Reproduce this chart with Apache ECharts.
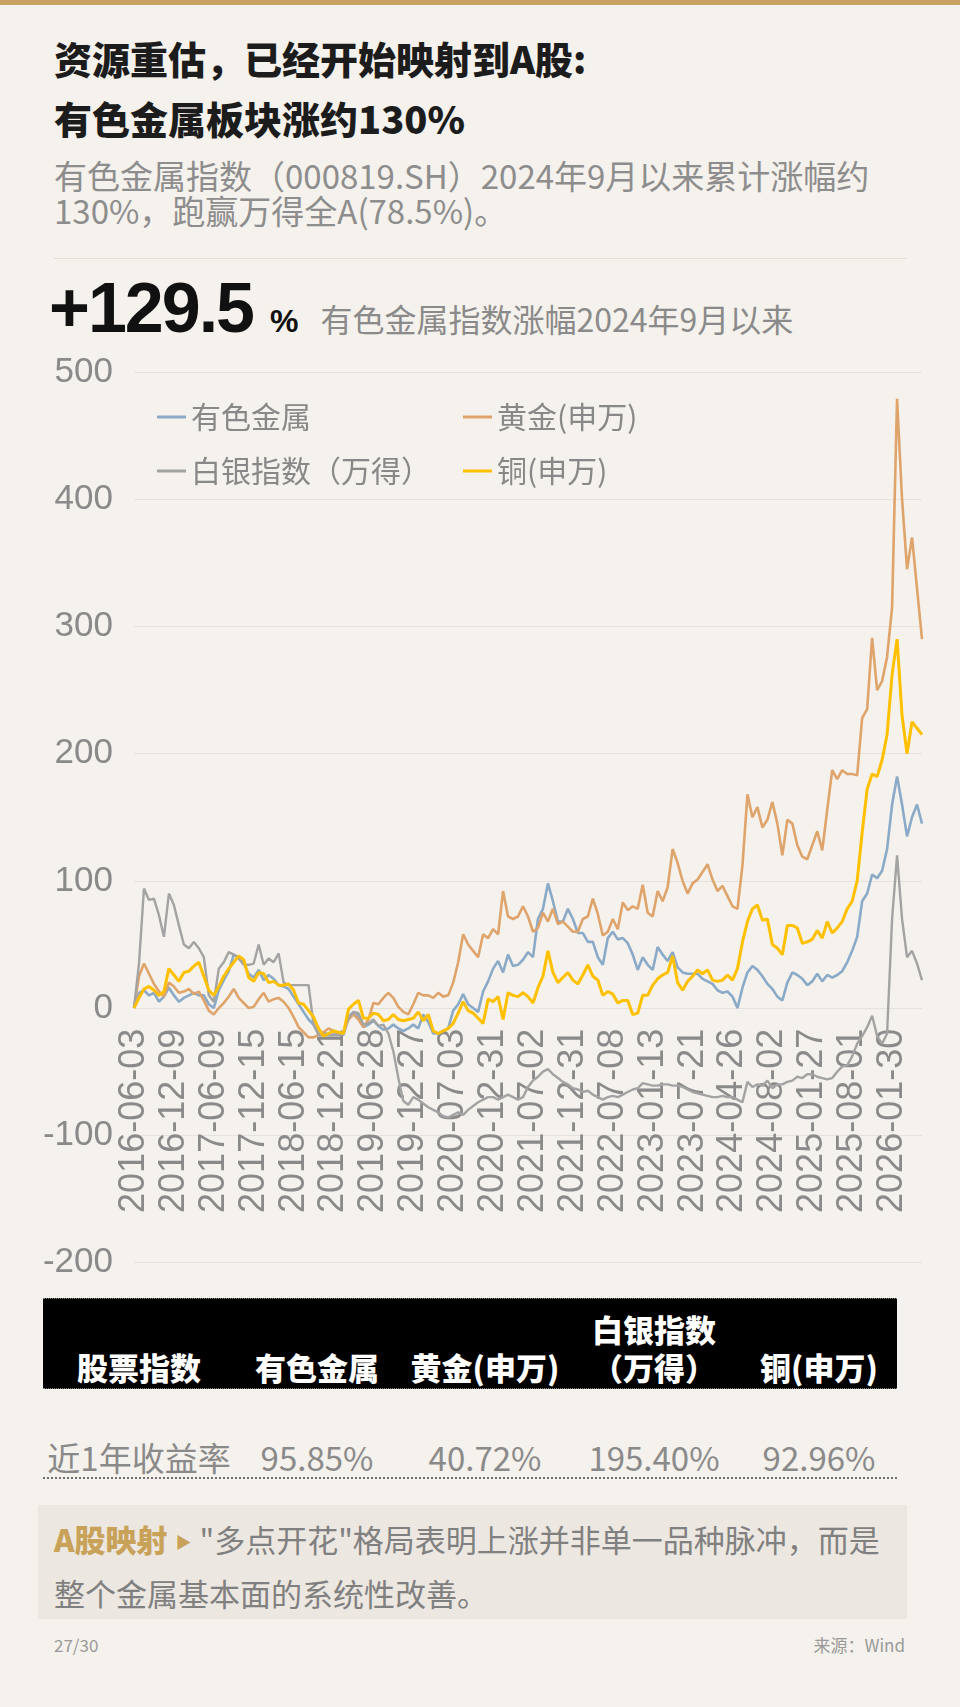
<!DOCTYPE html>
<html>
<head>
<meta charset="utf-8">
<script src="https://cdn.jsdelivr.net/npm/echarts@6/dist/echarts.min.js"></script>
<style>
html, body { margin: 0; padding: 0; }
body {
  width: 960px; height: 1707px; position: relative; overflow: hidden;
  background: #F5F1EC;
  font-family: "Noto Sans CJK SC", "Noto Sans", sans-serif;
}
.topbar { position: absolute; left: 0; top: 0; width: 960px; height: 5px; background: #C9A262; }
.title { position: absolute; left: 54px; top: 28px; font-size: 38px; line-height: 60px; font-weight: 900; color: #1c1c1c; }
.sub { position: absolute; left: 54px; top: 158px; font-size: 33px; line-height: 35px; color: #8d8d8d; }
.sep { position: absolute; left: 54px; top: 258px; width: 853px; height: 1px; background: #E3DED8; }
.kpi { position: absolute; left: 49px; top: 273px; display: flex; align-items: baseline; white-space: nowrap; }
.kpi .num { font-family: "Liberation Sans", Arial, sans-serif; font-weight: 700; font-size: 70px; line-height: 70px; letter-spacing: -2px; color: #111; }
.kpi .pct { font-family: "Liberation Sans", Arial, sans-serif; font-weight: 700; font-size: 32px; color: #111; margin-left: 17px; }
.kpi .txt { font-size: 32px; color: #8a8a8a; margin-left: 22px; }
#chart { position: absolute; left: 0; top: 330px; width: 960px; height: 950px; }
.thead { position: absolute; left: 43px; top: 1298px; width: 854px; height: 91px; background: #000;
  border-top: 1px dotted #8a8a8a; border-bottom: 1px dotted #8a8a8a; box-sizing: border-box; }
.th { position: absolute; bottom: 2px; font-size: 31px; line-height: 38px; font-weight: 900; color: #fff; text-align: center; }
.td { position: absolute; top: 1437px; font-size: 33px; line-height: 40px; color: #8a8a8a; text-align: center; white-space: nowrap; }
.dots { position: absolute; left: 43px; top: 1477px; width: 854px; border-top: 2px dotted #6f6f6f; }
.note { position: absolute; left: 38px; top: 1505px; width: 869px; height: 114px; background: #ECE7E0;
  box-sizing: border-box; padding: 10px 0 0 16px; font-size: 31px; line-height: 47px; color: #808080; white-space: nowrap; }
.note b { color: #C9A25A; font-weight: 900; }
.note .tri { color: #C9A25A; font-size: 16px; margin: 0 8px 0 8px; position: relative; top: -4px; }
.foot { position: absolute; top: 1634px; font-size: 17px; line-height: 22px; color: #9a9a9a; }
</style>
</head>
<body>
<div class="topbar"></div>
<div class="title">资源重估，已经开始映射到A股:<br>有色金属板块涨约130%</div>
<div class="sub">有色金属指数（000819.SH）2024年9月以来累计涨幅约<br>130%，跑赢万得全A(78.5%)。</div>
<div class="sep"></div>
<div class="kpi"><span class="num">+129.5</span><span class="pct">%</span><span class="txt">有色金属指数涨幅2024年9月以来</span></div>
<div id="chart"></div>
<div class="thead" id="thead"></div>
<div id="trow"></div>
<div class="dots"></div>
<div class="note"><b>A股映射</b><span class="tri">▶</span>"多点开花"格局表明上涨并非单一品种脉冲，而是<br>整个金属基本面的系统性改善。</div>
<div class="foot" style="left:54px;">27/30</div>
<div class="foot" style="right:55px;">来源：Wind</div>

<script>
// x 轴标签日期（每 8 个点一个）
var labelDates = ['2016-06-03', '2016-12-09', '2017-06-09', '2017-12-15', '2018-06-15',
  '2018-12-21', '2019-06-28', '2019-12-27', '2020-07-03', '2020-12-31',
  '2021-07-02', '2021-12-31', '2022-07-08', '2023-01-13', '2023-07-21',
  '2024-04-26', '2024-08-02', '2025-01-27', '2025-08-01', '2026-01-30'];
var STEPS = 8;
var TAIL = 6;

var seriesNames = ['有色金属', '黄金(申万)', '白银指数（万得）', '铜(申万)'];

// 累计涨幅(%)
var metals = [
  0, 12, 14, 10, 12, 5, 9, 16, 10, 5,
  8, 10, 12, 10, 10, 3, 0, 14, 22, 29,
  42, 40, 35, 27, 24, 30, 22, 26, 23, 18,
  17, 15, 9, 3, -3, -9, -13, -20, -19, -21,
  -21, -20, -21, -7, -3, -7, -15, -13, -10, -14,
  -17, -16, -13, -16, -18, -16, -13, -16, -5, -11,
  -20, -20, -18, -16, -2, 3, 11, 3, 0, -3,
  13, 21, 31, 37, 28, 42, 33, 34, 38, 44,
  40, 70, 78, 98, 84, 68, 68, 78, 70, 59,
  59, 52, 52, 40, 34, 55, 60, 54, 55, 51,
  42, 30, 40, 34, 30, 48, 42, 37, 44, 32,
  28, 27, 27, 27, 23, 21, 19, 14, 12, 13,
  9, 0, 16, 28, 33, 30, 25, 19, 15, 9,
  6, 20, 28, 26, 23, 18, 21, 27, 21, 26,
  24, 26, 29, 36, 45, 56, 84, 90, 105, 102,
  108, 125, 160, 182, 160, 135, 150, 160, 145
];
var gold = [
  0, 25, 35, 27, 19, 13, 9, 20, 17, 12,
  13, 15, 11, 13, 6, -2, -5, 0, 4, 9,
  15, 8, 4, 0, 1, 7, 12, 5, 7, 8,
  5, 0, -7, -15, -19, -23, -23, -21, -19, -16,
  -18, -21, -19, -9, -5, -9, -15, -9, 4, 3,
  8, 12, 8, 1, -3, -5, 3, 12, 10, 10,
  8, 12, 9, 10, 20, 36, 58, 50, 45, 40,
  58, 55, 62, 58, 92, 72, 70, 72, 80, 72,
  60, 63, 75, 68, 78, 66, 68, 64, 60, 60,
  70, 72, 86, 74, 57, 60, 70, 62, 83, 77,
  80, 78, 97, 75, 72, 92, 84, 95, 125, 114,
  100, 90, 98, 101, 107, 113, 101, 92, 96, 88,
  80, 78, 112, 168, 150, 158, 142, 148, 162, 145,
  120, 148, 145, 128, 119, 117, 128, 139, 124, 156,
  187, 180, 187, 184, 184, 183, 228, 235, 291, 250,
  257, 276, 315, 479, 400, 345, 370, 330, 290
];
var silver = [
  0, 35, 94, 85, 86, 73, 56, 90, 81, 65,
  50, 47, 52, 47, 40, 10, 5, 31, 36, 44,
  42, 39, 34, 34, 35, 50, 34, 39, 36, 43,
  20, 18, 18, 18, 18, 18, -13, -21, -21, -21,
  -21, -21, -20, -8, -3, -4, -13, -12, -9, -14,
  -13, -20, -34, -55, -73, -76, -70, -72, -75, -78,
  -80, -82, -85, -86, -84, -82, -84, -80, -77, -74,
  -72, -70, -70, -72, -70, -68, -70, -72, -70, -62,
  -57, -54, -50, -48, -52, -55, -58, -60, -63, -64,
  -66, -65, -68, -70, -72, -70, -69, -70, -68, -66,
  -64, -63, -59, -60, -61, -61, -60, -60, -61, -61,
  -62, -64, -66, -67, -68, -69, -70, -70, -69, -70,
  -70, -72, -74, -58, -62, -60, -61, -57, -63, -60,
  -60, -58, -57, -54, -55, -52, -52, -54, -55, -56,
  -55, -50, -46, -45, -38, -28, -22, -15, -6, -22,
  -28, -20, 70, 120, 70, 40, 45, 35, 22
];
var copper = [
  0, 8, 15, 17, 14, 10, 13, 31, 26, 21,
  28, 29, 33, 36, 25, 14, 10, 17, 25, 31,
  36, 41, 38, 24, 21, 28, 27, 20, 21, 18,
  18, 19, 14, 4, 3, -2, -7, -16, -22, -20,
  -18, -19, -20, -1, 3, 6, -8, -8, -4, -5,
  -10, -9, -5, -9, -10, -9, -8, -3, -10, -5,
  -18, -20, -18, -16, -12, -4, 5, -2, -4, -8,
  -12, 7, 5, 9, -9, 12, 10, 9, 12, 9,
  4, 16, 25, 45, 28, 20, 24, 28, 22, 19,
  26, 34, 25, 22, 10, 13, 11, 4, 6, 6,
  -5, -4, 10, 10, 18, 23, 26, 28, 41, 20,
  14, 21, 25, 30, 27, 30, 22, 21, 22, 26,
  22, 31, 52, 68, 78, 81, 69, 70, 50, 47,
  42, 65, 65, 63, 51, 52, 54, 61, 55, 68,
  59, 63, 68, 78, 84, 100, 138, 172, 184, 182,
  195, 215, 262, 290, 230, 200, 225, 220, 215
];

// 表格
var tableHeaders = ['股票指数', '有色金属', '黄金(申万)', '白银指数（万得）', '铜(申万)'];
var rowLabel = '近1年收益率';
var yearReturns = ['95.85%', '40.72%', '195.40%', '92.96%'];

function fmtDate(t) {
  var d = new Date(t);
  var m = d.getUTCMonth() + 1, day = d.getUTCDate();
  return d.getUTCFullYear() + '-' + (m < 10 ? '0' + m : m) + '-' + (day < 10 ? '0' + day : day);
}

// 类目：标签日期之间插入中间日期
function buildCategories() {
  var cats = [];
  for (var k = 0; k < labelDates.length; k++) {
    cats.push(labelDates[k]);
    if (k < labelDates.length - 1) {
      var a = Date.parse(labelDates[k]), b = Date.parse(labelDates[k + 1]);
      for (var j = 1; j < STEPS; j++) {
        cats.push(fmtDate(a + (b - a) * j / STEPS));
      }
    }
  }
  var last = Date.parse(labelDates[labelDates.length - 1]);
  var prev = Date.parse(labelDates[labelDates.length - 2]);
  for (var t = 1; t <= TAIL; t++) {
    cats.push(fmtDate(last + (last - prev) * t / STEPS));
  }
  return cats;
}
var categories = buildCategories();

// 表头 / 数据行
var colCenters = [139, 317, 485, 654, 819];
var colWidths = [180, 170, 170, 130, 170];
var thead = document.getElementById('thead');
var trow = document.getElementById('trow');
tableHeaders.forEach(function (h, i) {
  var el = document.createElement('div');
  el.className = 'th';
  el.style.left = (colCenters[i] - colWidths[i] / 2 - 43) + 'px';
  el.style.width = colWidths[i] + 'px';
  el.textContent = h;
  thead.appendChild(el);
});
[rowLabel].concat(yearReturns).forEach(function (v, i) {
  var el = document.createElement('div');
  el.className = 'td';
  el.style.left = (colCenters[i] - 100) + 'px';
  el.style.width = '200px';
  el.textContent = v;
  trow.appendChild(el);
});

var GRID_TOP = 42, GRID_BOTTOM = 13, CHART_H = 950;
var Y_MIN = -200, Y_MAX = 500;
// x 轴放在 0 值处：用 offset 把底部轴上移
var plotH = CHART_H - GRID_TOP - GRID_BOTTOM;
var zeroOffset = -plotH * (0 - Y_MIN) / (Y_MAX - Y_MIN);

var myChart = echarts.init(document.getElementById('chart'));
var legendBase = {
  orient: 'vertical',
  top: 67,
  itemWidth: 29,
  itemHeight: 3,
  itemGap: 24,
  icon: 'rect',
  selectedMode: false,
  textStyle: { fontFamily: '"Noto Sans CJK SC", sans-serif', fontSize: 30, lineHeight: 30, color: '#888' }
};
myChart.setOption({
  animation: false,
  textStyle: { fontFamily: '"Liberation Sans", Arial, sans-serif' },
  color: ['#8AAAC8', '#DEA46C', '#A3A3A3', '#FFC000'],
  legend: [
    Object.assign({}, legendBase, { left: 152, data: [seriesNames[0], seriesNames[2]] }),
    Object.assign({}, legendBase, { left: 458, data: [seriesNames[1], seriesNames[3]] })
  ],
  grid: { left: 134, right: 38, top: GRID_TOP, bottom: GRID_BOTTOM, containLabel: false },
  xAxis: {
    type: 'category',
    position: 'bottom',
    offset: zeroOffset,
    boundaryGap: false,
    data: categories,
    axisLine: { show: false, onZero: false },
    axisTick: { show: false },
    axisLabel: { show: true, rotate: 90, interval: STEPS - 1, margin: 22, fontSize: 36, color: '#8a8a8a', hideOverlap: false },
    splitLine: { show: false }
  },
  yAxis: {
    type: 'value',
    min: Y_MIN,
    max: Y_MAX,
    interval: 100,
    axisLine: { show: false },
    axisTick: { show: false },
    axisLabel: { fontSize: 35, color: '#8a8a8a', margin: 21 },
    splitLine: { lineStyle: { color: '#E6E1DC', width: 1 } }
  },
  series: [
    { name: seriesNames[0], type: 'line', data: metals, showSymbol: false, lineStyle: { width: 2.6 } },
    { name: seriesNames[1], type: 'line', data: gold, showSymbol: false, lineStyle: { width: 2.6 } },
    { name: seriesNames[2], type: 'line', data: silver, showSymbol: false, lineStyle: { width: 2.4 } },
    { name: seriesNames[3], type: 'line', data: copper, showSymbol: false, lineStyle: { width: 3 } }
  ]
});
</script>
</body>
</html>
